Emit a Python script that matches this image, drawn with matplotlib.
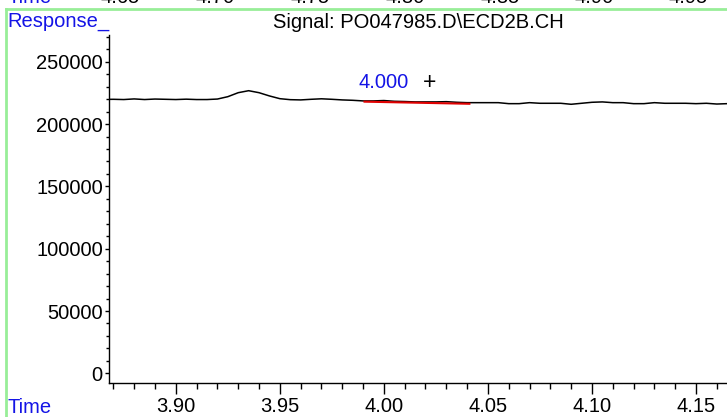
import matplotlib
matplotlib.use('Agg')
import matplotlib.pyplot as plt
from matplotlib.lines import Line2D
from matplotlib.ticker import MultipleLocator, FormatStrFormatter

plt.rcParams['font.family'] = ['Liberation Sans', 'DejaVu Sans']

# signal trace
time = [3.865, 3.870, 3.875, 3.880, 3.885, 3.890, 3.895, 3.900, 3.905, 3.910,
        3.915, 3.920, 3.925, 3.930, 3.935, 3.940, 3.945, 3.950, 3.955, 3.960,
        3.965, 3.970, 3.975, 3.980, 3.985, 3.990, 3.995, 4.000, 4.005, 4.010,
        4.015, 4.020, 4.025, 4.030, 4.035, 4.040, 4.045, 4.050, 4.055, 4.060,
        4.065, 4.070, 4.075, 4.080, 4.085, 4.090, 4.095, 4.100, 4.105, 4.110,
        4.115, 4.120, 4.125, 4.130, 4.135, 4.140, 4.145, 4.150, 4.155, 4.160,
        4.165]
response = [219800, 219900, 219700, 220200, 219700, 220100, 219900, 219700, 220000, 219700,
            219700, 220100, 222000, 225200, 226800, 225200, 222600, 220400, 219600, 219400,
            219900, 220300, 219900, 219400, 219100, 218600, 218600, 218900, 218300, 218100,
            217800, 217800, 217800, 218000, 217500, 217200, 217200, 217200, 217200, 216400,
            216400, 217200, 216700, 216700, 216700, 215900, 216700, 217500, 217800, 217200,
            217200, 216400, 216400, 217200, 216700, 216700, 216700, 216400, 216700, 216100,
            216400]

# integration baseline
base_t = [3.9907, 4.0411]
base_r = [218000, 216300]
peak_rt = 4.000
peak_label = "4.000"

title = r"Signal: PO047985.D\ECD2B.CH"
prev_labels = ["4.65", "4.70", "4.75", "4.80", "4.85", "4.90", "4.95"]
prev_x = [120, 215, 310, 405, 500, 594, 688]

W, H = 727, 417
fs = 14.5
blue = '#1414e6'
green = '#98ee98'

fig = plt.figure(figsize=(W / 100, H / 100), dpi=100)
ax = fig.add_axes([109 / W, (H - 382.7) / H, (W - 109) / W, (382.7 - 35) / H])

ax.plot(time, response, color='black', lw=1.1)
ax.plot(base_t, base_r, color='#e00000', lw=1.5)

ax.text(peak_rt, 226000, peak_label, color=blue, fontsize=fs, ha='center', va='bottom')
ax.text(4.022, 224000, '+', color='black', fontsize=fs + 2, ha='center', va='bottom')

ax.set_xlim(3.8679, 4.1649)
ax.set_ylim(-7540, 271500)

ax.xaxis.set_major_locator(MultipleLocator(0.05))
ax.xaxis.set_minor_locator(MultipleLocator(0.01))
ax.xaxis.set_major_formatter(FormatStrFormatter('%.2f'))
ax.yaxis.set_major_locator(MultipleLocator(50000))
ax.yaxis.set_minor_locator(MultipleLocator(10000))
ax.yaxis.set_major_formatter(FormatStrFormatter('%d'))

ax.tick_params(axis='x', which='major', length=8, width=1, labelsize=fs, pad=2)
ax.tick_params(axis='x', which='minor', length=4, width=1)
ax.tick_params(axis='y', which='major', length=3, width=1, labelsize=fs, pad=1.5)
ax.tick_params(axis='y', which='minor', length=2, width=1)

for s in ['top', 'right']:
    ax.spines[s].set_visible(False)
for s in ['left', 'bottom']:
    ax.spines[s].set_linewidth(1)

# frame lines and labels of the chromatogram window
fig.add_artist(Line2D([6 / W, 1], [1 - 9 / H, 1 - 9 / H], transform=fig.transFigure,
                      color=green, lw=2))
fig.add_artist(Line2D([6 / W, 6 / W], [0, 1 - 9 / H], transform=fig.transFigure,
                      color=green, lw=2))

fig.text(7 / W, 1 - 26.7 / H, 'Response_', color=blue, fontsize=fs, ha='left', va='baseline')
fig.text(418 / W, 1 - 28.3 / H, title, color='black', fontsize=fs, ha='center', va='baseline')
fig.text(7 / W, 1 - 413 / H, 'Time', color=blue, fontsize=fs, ha='left', va='baseline')

# cut-off axis labels of the panel above (only their lower edge shows)
fig.text(7 / W, 1 - 3 / H, 'Time', color=blue, fontsize=fs, ha='left', va='baseline')
for px, lab in zip(prev_x, prev_labels):
    fig.text(px / W, 1 - 3 / H, lab, color='black', fontsize=fs, ha='center', va='baseline')

fig.savefig('out.png', dpi=100)
